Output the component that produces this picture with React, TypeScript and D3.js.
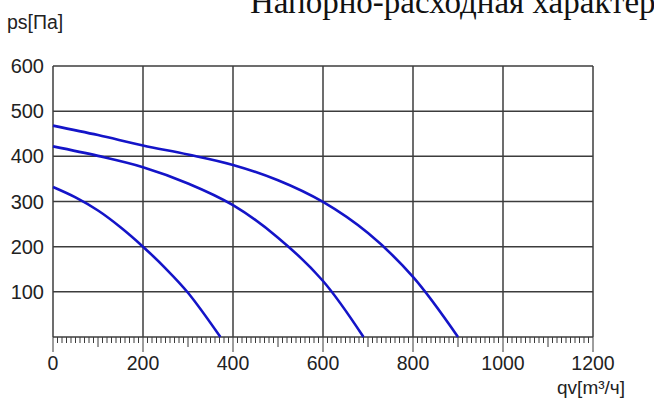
import * as d3 from "d3";

// напорно-расходная характеристика, три кривые
const flowTicks = [0, 200, 400, 600, 800, 1000, 1200];
const pressureTicks = [100, 200, 300, 400, 500, 600];

const curveHigh = [
  { q: 0, p: 468 },
  { q: 100, p: 447 },
  { q: 200, p: 424 },
  { q: 300, p: 404 },
  { q: 400, p: 381 },
  { q: 500, p: 347 },
  { q: 600, p: 299 },
  { q: 700, p: 230 },
  { q: 800, p: 133 },
  { q: 900, p: 0 },
];

const curveMid = [
  { q: 0, p: 422 },
  { q: 100, p: 401 },
  { q: 200, p: 376 },
  { q: 300, p: 340 },
  { q: 400, p: 292 },
  { q: 500, p: 220 },
  { q: 600, p: 124 },
  { q: 690, p: 0 },
];

const curveLow = [
  { q: 0, p: 332 },
  { q: 50, p: 309 },
  { q: 100, p: 280 },
  { q: 150, p: 243 },
  { q: 200, p: 200 },
  { q: 250, p: 152 },
  { q: 300, p: 98 },
  { q: 372, p: 0 },
];

const series = [curveHigh, curveMid, curveLow];

const W = 654;
const H = 403;
const plot = { left: 53, right: 593, top: 66, bottom: 337 };

export default function App() {
  const x = d3.scaleLinear().domain([0, 1200]).range([plot.left, plot.right]);
  const y = d3.scaleLinear().domain([0, 600]).range([plot.bottom, plot.top]);

  const line = d3
    .line<{ q: number; p: number }>()
    .x((d) => x(d.q))
    .y((d) => y(d.p))
    .curve(d3.curveCatmullRom.alpha(0.5));

  const minor = d3.range(0, 1201, 10);
  const gridColor = "#3c3c3c";
  const font = "'Liberation Sans', Arial, sans-serif";

  return (
    <svg
      width={W}
      height={H}
      style={{ position: "absolute", left: 0, top: 0, background: "#fff" }}
    >
      <text
        x={250}
        y={13}
        fontFamily="'Liberation Serif', 'Times New Roman', serif"
        fontSize={33}
        fill="#111"
      >
        Напорно-расходная характеристика
      </text>

      <text x={7} y={29} fontFamily={font} fontSize={19.5} fill="#222">
        ps[Па]
      </text>

      {/* мелкие засечки по оси расхода */}
      {minor.map((v) => {
        const len = v % 200 === 0 ? 15 : v % 100 === 0 ? 10 : 6;
        return (
          <line
            key={"m" + v}
            x1={x(v)}
            x2={x(v)}
            y1={plot.bottom}
            y2={plot.bottom + len}
            stroke={gridColor}
            strokeWidth={1}
          />
        );
      })}

      {/* сетка */}
      {flowTicks.map((v) => (
        <line
          key={"gx" + v}
          x1={x(v)}
          x2={x(v)}
          y1={plot.top}
          y2={plot.bottom}
          stroke={gridColor}
          strokeWidth={1.5}
        />
      ))}
      {[0, ...pressureTicks].map((v) => (
        <line
          key={"gy" + v}
          x1={plot.left}
          x2={plot.right}
          y1={y(v)}
          y2={y(v)}
          stroke={gridColor}
          strokeWidth={1.5}
        />
      ))}

      {series.map((s, i) => (
        <path
          key={"c" + i}
          d={line(s) || ""}
          fill="none"
          stroke="#1414c8"
          strokeWidth={2.6}
        />
      ))}

      {pressureTicks.map((v) => (
        <text
          key={"ty" + v}
          x={44}
          y={y(v) + 7}
          textAnchor="end"
          fontFamily={font}
          fontSize={20}
          fill="#222"
        >
          {v}
        </text>
      ))}

      {flowTicks.map((v) => (
        <text
          key={"tx" + v}
          x={x(v)}
          y={370}
          textAnchor="middle"
          fontFamily={font}
          fontSize={19.5}
          fill="#222"
        >
          {v}
        </text>
      ))}

      <text
        x={625}
        y={394}
        textAnchor="end"
        fontFamily={font}
        fontSize={19}
        fill="#222"
      >
        qv[m³/ч]
      </text>
    </svg>
  );
}
